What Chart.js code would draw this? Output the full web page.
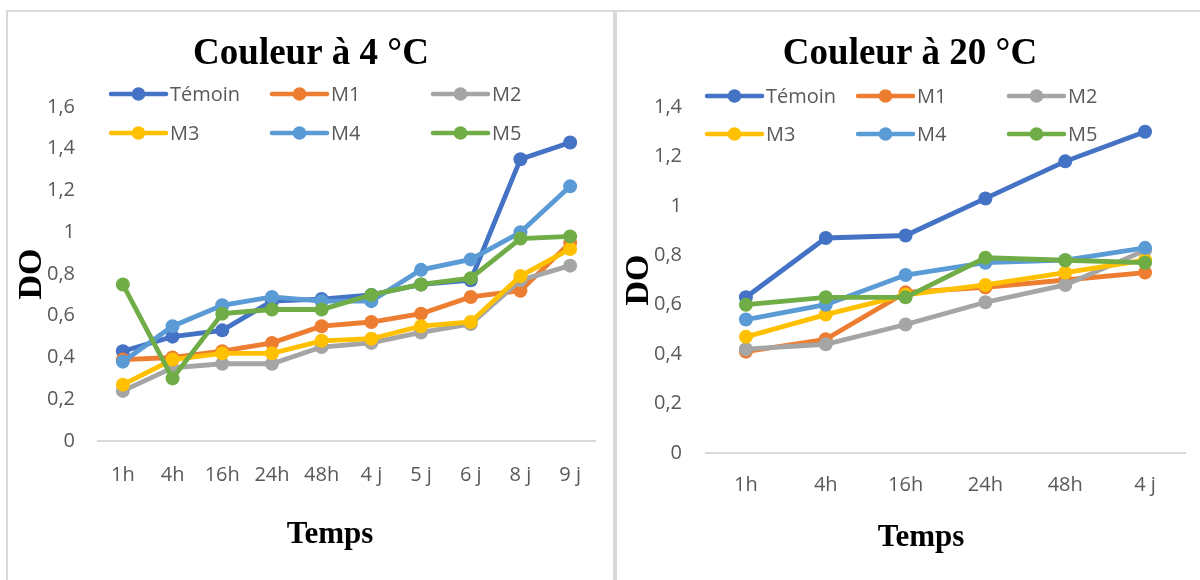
<!DOCTYPE html>
<html lang="fr">
<head>
<meta charset="utf-8">
<title>Couleur</title>
<script src="https://cdn.jsdelivr.net/npm/chart.js@4.4.1/dist/chart.umd.min.js"></script>
<style>
  html, body { margin: 0; padding: 0; background: #fff; }
  body { width: 1200px; height: 580px; position: relative; overflow: hidden; }
  .frame { position: absolute; border: 2px solid #d9d9d9; box-sizing: border-box; }
  #frame4 { left: 6px; top: 10px; width: 609px; height: 600px; }
  #frame20 { left: 615px; top: 10px; width: 600px; height: 600px; }
  .wrap { position: absolute; top: 0; height: 580px; }
  #wrap4 { left: 0; width: 610px; }
  #wrap20 { left: 615px; width: 585px; }
</style>
</head>
<body>
<div class="frame" id="frame4"></div>
<div class="frame" id="frame20"></div>
<div class="wrap" id="wrap4"><canvas id="chart4"></canvas></div>
<div class="wrap" id="wrap20"><canvas id="chart20"></canvas></div>
<script>
// Séries et temps de mesure
const seriesNames = ["Témoin", "M1", "M2", "M3", "M4", "M5"];

// 4 °C
const temps4 = ["1h", "4h", "16h", "24h", "48h", "4 j", "5 j", "6 j", "8 j", "9 j"];
const temoin4 = [0.43, 0.50, 0.53, 0.67, 0.68, 0.70, 0.75, 0.77, 1.35, 1.43];
const m1_4 = [0.39, 0.40, 0.43, 0.47, 0.55, 0.57, 0.61, 0.69, 0.72, 0.95];
const m2_4 = [0.24, 0.35, 0.37, 0.37, 0.45, 0.47, 0.52, 0.56, 0.77, 0.84];
const m3_4 = [0.27, 0.39, 0.42, 0.42, 0.48, 0.49, 0.55, 0.57, 0.79, 0.92];
const m4_4 = [0.38, 0.55, 0.65, 0.69, 0.67, 0.67, 0.82, 0.87, 1.00, 1.22];
const m5_4 = [0.75, 0.30, 0.61, 0.63, 0.63, 0.70, 0.75, 0.78, 0.97, 0.98];

// 20 °C
const temps20 = ["1h", "4h", "16h", "24h", "48h", "4 j"];
const temoin20 = [0.63, 0.87, 0.88, 1.03, 1.18, 1.30];
const m1_20 = [0.41, 0.46, 0.65, 0.67, 0.70, 0.73];
const m2_20 = [0.42, 0.44, 0.52, 0.61, 0.68, 0.82];
const m3_20 = [0.47, 0.56, 0.64, 0.68, 0.73, 0.78];
const m4_20 = [0.54, 0.60, 0.72, 0.77, 0.78, 0.83];
const m5_20 = [0.60, 0.63, 0.63, 0.79, 0.78, 0.77];

const colors = ["#4472C4", "#ED7D31", "#A5A5A5", "#FFC000", "#5B9BD5", "#70AD47"];
const gris = "#595959";
const sans = "'Open Sans', 'Noto Sans', sans-serif";
const serif = "'Liberation Serif', 'Times New Roman', serif";

// titre, titre de l'axe X et légende en grille 3 colonnes x 2 lignes
const decor = {
  id: "decor",
  afterDraw(chart, args, opts) {
    const ctx = chart.ctx;
    ctx.save();
    ctx.textBaseline = "middle";
    ctx.textAlign = "center";
    ctx.fillStyle = "#000";
    ctx.font = "bold 37px " + serif;
    ctx.fillText(opts.title, opts.titleX, opts.titleY);
    ctx.font = "bold 31px " + serif;
    ctx.fillText("Temps", opts.xTitleX, opts.xTitleY);

    chart.data.datasets.forEach((ds, i) => {
      const x = opts.legendX + (i % 3) * opts.legendDx;
      const y = opts.legendRows[Math.floor(i / 3)];
      ctx.strokeStyle = ds.borderColor;
      ctx.lineWidth = 4.5;
      ctx.lineCap = "round";
      ctx.beginPath();
      ctx.moveTo(x, y);
      ctx.lineTo(x + 55, y);
      ctx.stroke();
      ctx.fillStyle = ds.borderColor;
      ctx.beginPath();
      ctx.arc(x + 27.5, y, 6.8, 0, Math.PI * 2);
      ctx.fill();
      ctx.fillStyle = gris;
      ctx.font = "20px " + sans;
      ctx.textAlign = "left";
      ctx.fillText(ds.label, x + 59, y + 1);
    });
    ctx.restore();
  }
};

const fmt = v => String(Math.round(v * 10) / 10).replace(".", ",");

function makeChart(id, titre, labels, values, yMax, g) {
  const datasets = values.map((vals, i) => ({
    label: seriesNames[i],
    data: vals,
    borderColor: colors[i],
    backgroundColor: colors[i],
    pointBackgroundColor: colors[i],
    pointBorderWidth: 0,
    pointRadius: 7,
    borderWidth: 4.8,
    tension: 0,
    order: values.length - i
  }));

  return new Chart(document.getElementById(id), {
    type: "line",
    data: { labels: labels, datasets: datasets },
    options: {
      responsive: true,
      maintainAspectRatio: false,
      animation: false,
      layout: { padding: { left: 0, right: g.right, top: 107, bottom: 0 } },
      plugins: {
        legend: { display: false },
        tooltip: { enabled: false },
        title: { display: false },
        decor: Object.assign({ title: titre }, g.decor)
      },
      scales: {
        x: {
          offset: true,
          grid: { display: false, drawTicks: false },
          border: { display: true, color: "#d9d9d9", width: 2 },
          ticks: { color: gris, font: { family: sans, size: 20 }, padding: g.xTickPad, maxRotation: 0, autoSkip: false },
          afterFit(scale) { scale.height = g.xHeight; }
        },
        y: {
          min: 0,
          max: yMax,
          grid: { display: false, drawTicks: false },
          border: { display: false },
          ticks: { stepSize: 0.2, color: gris, font: { family: sans, size: 20 }, padding: g.yTickPad, callback: v => fmt(v) },
          title: {
            display: true,
            text: "DO",
            color: "#000",
            font: { family: serif, size: 34, weight: "bold", lineHeight: 1.2 },
            padding: { top: g.yTitlePad, bottom: 0 }
          },
          afterFit(scale) { scale.width = g.yWidth; }
        }
      }
    },
    plugins: [decor]
  });
}

makeChart("chart4", "Couleur à 4 °C", temps4,
  [temoin4, m1_4, m2_4, m3_4, m4_4, m5_4], 1.6,
  { right: 15, yWidth: 98, yTickPad: 23, yTitlePad: 12, xHeight: 139, xTickPad: 22,
    decor: { titleX: 311, titleY: 54, xTitleX: 330, xTitleY: 535,
             legendX: 111, legendDx: 161, legendRows: [94, 133] } });

makeChart("chart20", "Couleur à 20 °C", temps20,
  [temoin20, m1_20, m2_20, m3_20, m4_20, m5_20], 1.4,
  { right: 15, yWidth: 91, yTickPad: 24, yTitlePad: 4, xHeight: 127, xTickPad: 20,
    decor: { titleX: 295, titleY: 54, xTitleX: 306, xTitleY: 538,
             legendX: 92, legendDx: 151, legendRows: [96, 134] } });
</script>
</body>
</html>
